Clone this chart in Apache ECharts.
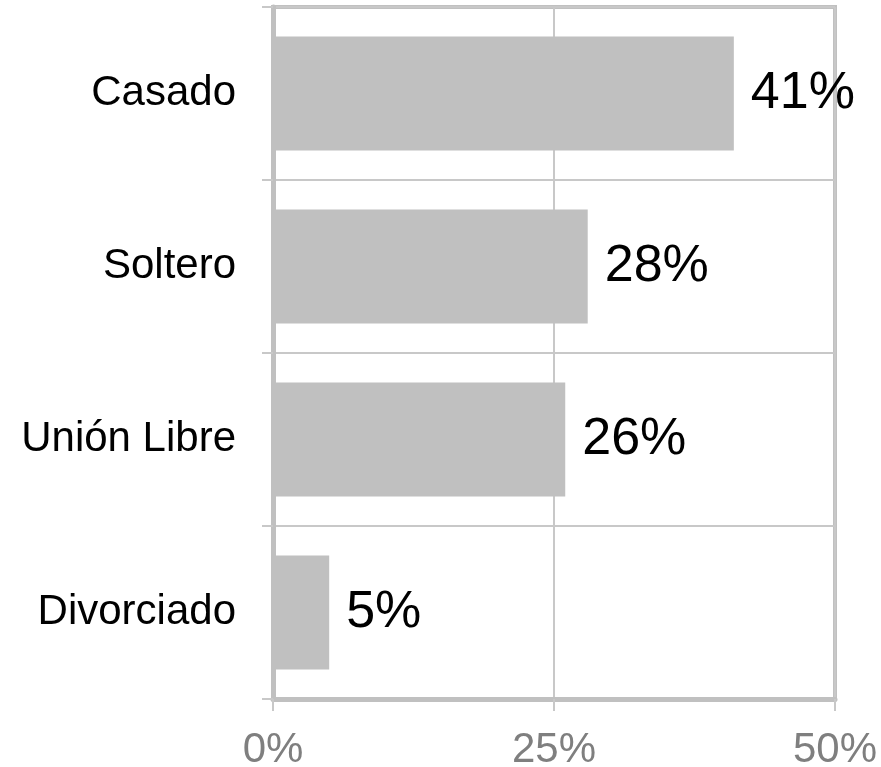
<!DOCTYPE html>
<html>
<head>
<meta charset="utf-8">
<script src="https://cdn.jsdelivr.net/npm/echarts@6/dist/echarts.min.js"></script>
<style>
  html, body { margin: 0; padding: 0; background: #fff; }
  #chart { width: 881px; height: 767px; }
</style>
</head>
<body>
<div id="chart"></div>
<script>
var categories = ['Casado', 'Soltero', 'Unión Libre', 'Divorciado'];
var values = [41, 28, 26, 5];
var xTicks = [0, 25, 50];

var myChart = echarts.init(document.getElementById('chart'));

// ejes grises, borde del area de trazado
var option = {
    animation: false,
    textStyle: { fontFamily: 'Liberation Sans, Arial, sans-serif' },
    grid: {
        left: 273,
        right: 46,
        top: 7,
        bottom: 68,
        outerBoundsMode: 'none',
        show: true,
        borderColor: '#c0c0c0',
        borderWidth: 4
    },
    xAxis: {
        type: 'value',
        min: xTicks[0],
        max: xTicks[xTicks.length - 1],
        interval: xTicks[1] - xTicks[0],
        axisLine: { show: true, lineStyle: { color: '#c0c0c0', width: 5 } },
        axisTick: { show: true, length: 12, lineStyle: { color: '#c8c8c8', width: 2 } },
        splitLine: { show: true, lineStyle: { color: '#c8c8c8', width: 2 } },
        axisLabel: {
            formatter: '{value}%',
            fontSize: 42,
            color: '#7f7f7f',
            margin: 30
        }
    },
    yAxis: {
        type: 'category',
        inverse: true,
        data: categories,
        axisLine: { show: true, lineStyle: { color: '#c0c0c0', width: 5 } },
        axisTick: { show: true, length: 11, lineStyle: { color: '#c8c8c8', width: 2 } },
        splitLine: { show: true, lineStyle: { color: '#c8c8c8', width: 2 } },
        axisLabel: {
            fontSize: 42,
            color: '#000',
            margin: 37
        }
    },
    series: [{
        type: 'bar',
        data: values,
        barCategoryGap: '34%',
        itemStyle: { color: '#c0c0c0' },
        label: {
            show: true,
            position: 'right',
            distance: 17,
            formatter: '{c}%',
            fontSize: 52,
            color: '#000'
        }
    }]
};

myChart.setOption(option);
</script>
</body>
</html>
